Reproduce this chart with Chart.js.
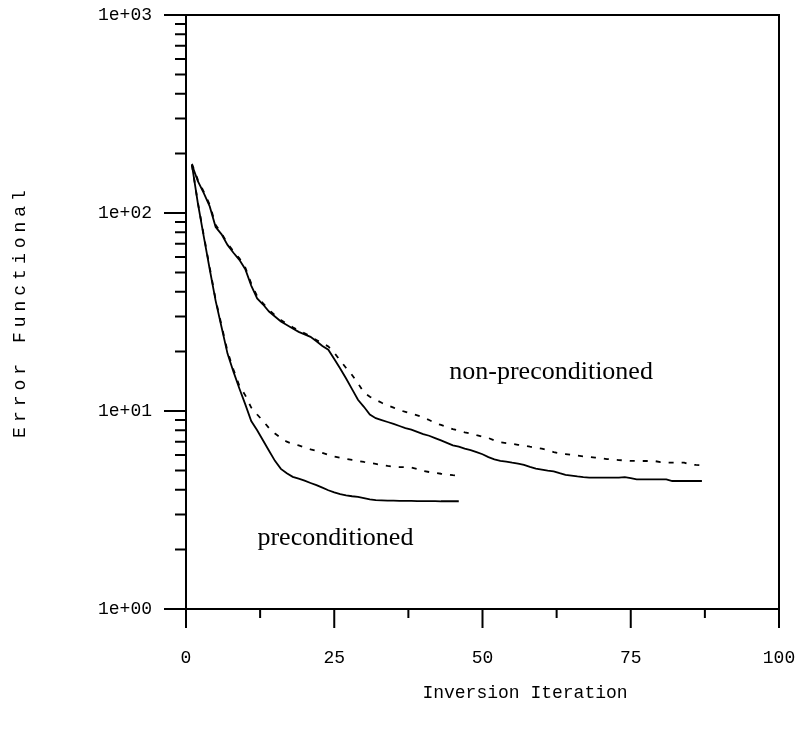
<!DOCTYPE html>
<html>
<head>
<meta charset="utf-8">
<script src="https://cdn.jsdelivr.net/npm/chart.js@4.4.1/dist/chart.umd.min.js"></script>
<style>
  html, body { margin: 0; padding: 0; background: #ffffff; }
  #wrap { width: 806px; height: 740px; }
</style>
</head>
<body>
<div id="wrap"><canvas id="c" width="806" height="740"></canvas></div>
<script>
// ---------------- data ----------------
const precIterations = Array.from({length: 46}, (_, i) => i + 1);
const nonPrecIterations = Array.from({length: 87}, (_, i) => i + 1);

const precSolid = [
  175, 112, 76, 52, 36, 26.5, 19.5, 15.8, 13.0, 10.8,
  8.9, 8.0, 7.1, 6.3, 5.6, 5.1, 4.85, 4.65, 4.55, 4.45,
  4.33, 4.22, 4.1, 3.98, 3.88, 3.8, 3.75, 3.71, 3.68, 3.63,
  3.58, 3.55, 3.54, 3.53, 3.53, 3.52, 3.52, 3.52, 3.51, 3.51,
  3.51, 3.51, 3.50, 3.50, 3.50, 3.50
];
const precDashed = [
  175, 113, 77, 53, 36.5, 27, 20, 16.2, 13.4, 12.0,
  10.4, 9.6, 8.9, 8.2, 7.7, 7.3, 7.0, 6.8, 6.7, 6.55,
  6.4, 6.3, 6.15, 6.0, 5.88, 5.8, 5.72, 5.66, 5.6, 5.53,
  5.47, 5.4, 5.33, 5.28, 5.24, 5.21, 5.2, 5.18, 5.1, 4.98,
  4.92, 4.87, 4.82, 4.78, 4.74, 4.72
];
const nonPrecSolid = [
  175, 145, 126, 108, 85, 78, 69, 63, 58, 52,
  43, 37, 34.5, 31.8, 30, 28.3, 27.2, 26.1, 25.1, 24.4,
  23.7, 22.5, 21.3, 20.4, 18.3, 16.4, 14.6, 12.9, 11.4, 10.5,
  9.6, 9.2, 9.0, 8.8, 8.6, 8.4, 8.2, 8.05, 7.85, 7.65,
  7.5, 7.3, 7.1, 6.9, 6.7, 6.6, 6.45, 6.35, 6.2, 6.05,
  5.85, 5.7, 5.6, 5.55, 5.48, 5.42, 5.35, 5.22, 5.12, 5.06,
  5.0, 4.96, 4.85, 4.76, 4.72, 4.67, 4.63, 4.61, 4.61, 4.61,
  4.61, 4.61, 4.61, 4.63, 4.58, 4.52, 4.52, 4.52, 4.52, 4.52,
  4.52, 4.43, 4.43, 4.43, 4.43, 4.43, 4.43
];
const nonPrecDashed = [
  177, 147, 128, 110, 87, 79, 70, 64, 59, 53,
  44, 38, 35, 32.4, 30.5, 28.8, 27.6, 26.5, 25.5, 24.7,
  23.8, 22.8, 22.0, 21.2, 19.7, 18.0, 16.5, 15.2, 13.8, 12.4,
  11.8, 11.4, 11.0, 10.7, 10.4, 10.1, 9.9, 9.7, 9.5, 9.3,
  9.0, 8.7, 8.5, 8.3, 8.1, 7.95, 7.8, 7.7, 7.55, 7.42,
  7.3, 7.1, 6.95, 6.88, 6.82, 6.75, 6.7, 6.6, 6.52, 6.45,
  6.35, 6.2, 6.12, 6.06, 6.0, 5.95, 5.9, 5.86, 5.82, 5.78,
  5.72, 5.68, 5.65, 5.63, 5.6, 5.59, 5.59, 5.59, 5.59, 5.52,
  5.49, 5.49, 5.49, 5.49, 5.37, 5.34, 5.32
];

const xTickValues = [0, 25, 50, 75, 100];
const xTickLabels = ['0', '25', '50', '75', '100'];
const xMinorTickValues = [12.5, 37.5, 62.5, 87.5];
const yTickValues = [1, 10, 100, 1000];
const yTickLabels = ['1e+00', '1e+01', '1e+02', '1e+03'];
const xTitle = 'Inversion Iteration';
const yTitle = 'Error Functional';
const annotationTexts = ['preconditioned', 'non-preconditioned'];
const annotationAnchors = [[12.05, 2.1], [44.4, 14.5]];

// ---------------- chart ----------------
const toPoints = (xs, ys) => xs.map((x, i) => ({x: x, y: ys[i]}));
const MONO = '"Liberation Mono", "Courier New", monospace';
const SERIF = '"Liberation Serif", "Times New Roman", serif';

function yAllTicks() {
  const out = [];
  for (let d = 1; d < 1000; d *= 10) {
    for (let m = 1; m < 10; m++) out.push(m * d);
  }
  out.push(1000);
  return out;
}

const framePlugin = {
  id: 'frame',
  afterDraw(chart) {
    const {ctx, chartArea: a, scales} = chart;
    const xs = scales.x, ys = scales.y;
    ctx.save();
    ctx.strokeStyle = '#000';
    ctx.lineWidth = 2;
    ctx.lineCap = 'butt';
    ctx.beginPath();
    ctx.moveTo(a.left, a.top);
    ctx.lineTo(a.right, a.top);
    ctx.lineTo(a.right, a.bottom);
    ctx.lineTo(a.left, a.bottom);
    ctx.closePath();
    ctx.stroke();
    ctx.beginPath();
    yAllTicks().forEach(v => {
      const p = ys.getPixelForValue(v);
      const major = yTickValues.includes(v);
      ctx.moveTo(a.left - (major ? 22 : 11), p);
      ctx.lineTo(a.left, p);
    });
    xTickValues.forEach(v => {
      const p = xs.getPixelForValue(v);
      ctx.moveTo(p, a.bottom);
      ctx.lineTo(p, a.bottom + 19);
    });
    xMinorTickValues.forEach(v => {
      const p = xs.getPixelForValue(v);
      ctx.moveTo(p, a.bottom);
      ctx.lineTo(p, a.bottom + 9);
    });
    ctx.stroke();

    // axis titles
    ctx.fillStyle = '#000';
    ctx.font = '18px ' + MONO;
    ctx.textAlign = 'center';
    ctx.textBaseline = 'middle';
    ctx.fillText(xTitle, 525, 693);
    ctx.save();
    ctx.translate(20, (a.top + a.bottom) / 2 + 2);
    ctx.rotate(-Math.PI / 2);
    ctx.textAlign = 'left';
    const spacing = 5;
    if ('letterSpacing' in ctx) ctx.letterSpacing = spacing + 'px';
    const w = ctx.measureText(yTitle).width - spacing;
    ctx.fillText(yTitle, -w / 2, 0);
    ctx.restore();

    // annotations
    ctx.font = '26px ' + SERIF;
    ctx.textAlign = 'left';
    ctx.textBaseline = 'alphabetic';
    annotationTexts.forEach((t, i) => {
      const [vx, vy] = annotationAnchors[i];
      ctx.fillText(t, xs.getPixelForValue(vx), ys.getPixelForValue(vy));
    });
    ctx.restore();
  }
};

const lineStyle = {
  borderColor: '#000',
  borderWidth: 1.8,
  pointRadius: 0,
  tension: 0,
  fill: false
};

new Chart(document.getElementById('c'), {
  type: 'line',
  data: {
    datasets: [
      Object.assign({label: 'preconditioned', data: toPoints(precIterations, precSolid)}, lineStyle),
      Object.assign({label: 'preconditioned (dashed)', data: toPoints(precIterations, precDashed), borderDash: [5, 8]}, lineStyle),
      Object.assign({label: 'non-preconditioned', data: toPoints(nonPrecIterations, nonPrecSolid)}, lineStyle),
      Object.assign({label: 'non-preconditioned (dashed)', data: toPoints(nonPrecIterations, nonPrecDashed), borderDash: [5, 8]}, lineStyle)
    ]
  },
  options: {
    responsive: false,
    animation: false,
    events: [],
    layout: { padding: { top: 15, right: 27, left: 0, bottom: 0 } },
    plugins: { legend: { display: false }, tooltip: { enabled: false }, title: { display: false } },
    scales: {
      x: {
        type: 'linear',
        min: 0, max: 100,
        afterFit: s => { s.height = 131; s.paddingLeft = 0; s.paddingRight = 0; },
        afterBuildTicks: s => { s.ticks = xTickValues.map(v => ({value: v})); },
        grid: { display: false, drawTicks: false },
        border: { display: false },
        ticks: {
          color: '#000',
          font: { family: MONO, size: 18 },
          padding: 38,
          maxRotation: 0,
          autoSkip: false,
          callback: (v) => { const i = xTickValues.indexOf(v); return i >= 0 ? xTickLabels[i] : ''; }
        }
      },
      y: {
        type: 'logarithmic',
        min: 1, max: 1000,
        afterFit: s => { s.width = 186; s.paddingTop = 0; s.paddingBottom = 0; },
        afterBuildTicks: s => { s.ticks = yTickValues.map(v => ({value: v})); },
        grid: { display: false, drawTicks: false },
        border: { display: false },
        ticks: {
          color: '#000',
          font: { family: MONO, size: 18 },
          padding: 34,
          autoSkip: false,
          callback: (v) => { const i = yTickValues.indexOf(v); return i >= 0 ? yTickLabels[i] : ''; }
        }
      }
    }
  },
  plugins: [framePlugin]
});
</script>
</body>
</html>
